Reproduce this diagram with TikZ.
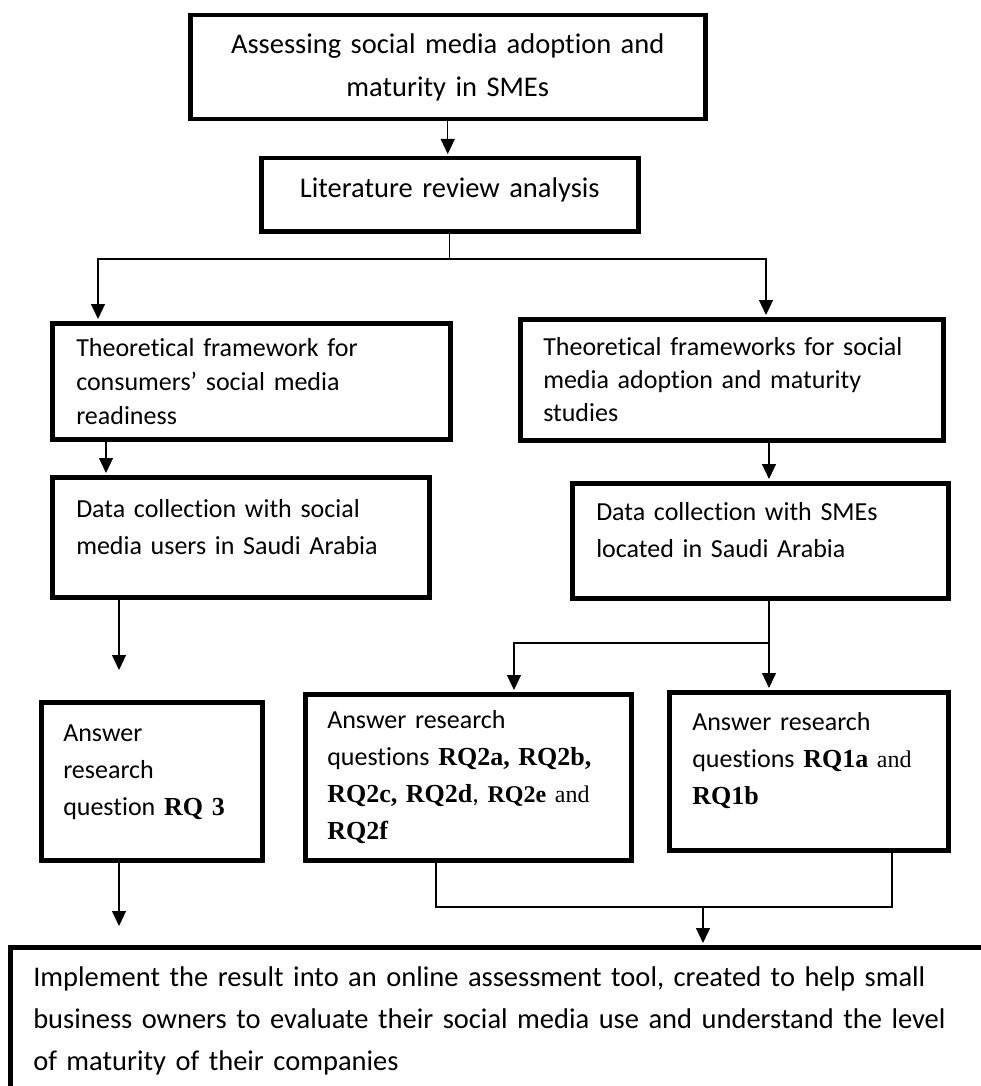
\documentclass[tikz,border=0pt]{standalone}
\usepackage{fontspec}
\setmainfont{Carlito}[Ligatures=NoCommon]
\newfontfamily\tnr{Liberation Serif}
\usetikzlibrary{arrows.meta,calc}

% bold Times-style research question labels
\newcommand{\rqb}[1]{{\tnr\bfseries #1}}
\newcommand{\rqr}[1]{{\tnr #1}}

\tikzset{
  box/.style={draw=black, line width=4.5pt, fill=white, anchor=north west,
    font=\fontsize{26pt}{37pt}\selectfont, align=left, inner ysep=0pt},
  conn/.style={draw=black, line width=1.2pt},
  arr/.style={conn, -{Triangle[width=14pt,length=15pt]}, shorten >=2pt}
}

\begin{document}
\begin{tikzpicture}[x=1pt,y=1pt]
\useasboundingbox (0,0) rectangle (981,-1086);

% --- boxes ---
\node[box, align=center, minimum width=515pt, minimum height=104pt, inner xsep=10pt,
  text width=495pt, font=\fontsize{28.5pt}{43pt}\selectfont] (top) at (188,-13)
  {Assessing social media adoption and\\maturity in SMEs};

\node[box, align=center, minimum width=377pt, minimum height=73pt, inner xsep=10pt,
  text width=357pt, text depth=14pt, font=\fontsize{28.5pt}{37pt}\selectfont] (lit) at (259,-156)
  {Literature review analysis};

\node[box, minimum width=398pt, minimum height=116pt, inner xsep=24pt,
  text width=350pt, font=\fontsize{26pt}{34pt}\selectfont] (theoL) at (50,-321)
  {Theoretical framework for\\consumers' social media\\readiness};

\node[box, minimum width=423pt, minimum height=121pt, inner xsep=23pt,
  text width=377pt, font=\fontsize{26pt}{33pt}\selectfont] (theoR) at (518,-317)
  {Theoretical frameworks for social\\media adoption and maturity\\studies};

\node[box, minimum width=377pt, minimum height=120pt, inner xsep=24pt,
  text width=329pt, text depth=58pt] (dataL) at (50,-475)
  {Data collection with social\\media users in Saudi Arabia};

\node[box, minimum width=376pt, minimum height=115pt, inner xsep=24pt,
  text width=328pt, text depth=58pt] (dataR) at (570,-481)
  {Data collection with SMEs\\located in Saudi Arabia};

\node[box, minimum width=221pt, minimum height=158pt, inner xsep=22pt,
  text width=177pt, text depth=96pt] (rq3) at (39,-700)
  {Answer\\research\\question \rqb{RQ 3}};

\node[box, minimum width=326pt, minimum height=166pt, inner xsep=22pt,
  text width=282pt] (rq2) at (303,-692)
  {Answer research\\questions \rqb{RQ2a, RQ2b,}\\\rqb{RQ2c, RQ2d}, {\fontsize{24pt}{37pt}\selectfont\rqb{RQ2e} \rqr{and}}\\\rqb{RQ2f}};

\node[box, minimum width=279pt, minimum height=158pt, inner xsep=23pt,
  text width=233pt, text depth=100pt] (rq1) at (667,-690)
  {Answer research\\questions \rqb{RQ1a} {\fontsize{24pt}{37pt}\selectfont\rqr{and}}\\\rqb{RQ1b}};

\node[box, minimum width=1000pt, inner xsep=23pt, inner ysep=19pt,
  text width=954pt, font=\fontsize{28.5pt}{42pt}\selectfont] (final) at (8,-945)
  {Implement the result into an online assessment tool, created to help small\\business owners to evaluate their social media use and understand the level\\of maturity of their companies};

% --- connectors ---
\coordinate (split1) at (446,-259);
\coordinate (split2) at (769,-643);
\coordinate (merge) at (703,-907);
\coordinate (endL1) at (119,-672);
\coordinate (endL2) at (119,-928);

\draw[arr] (top.south) -- (top.south |- lit.north);
\draw[conn] (lit.south) -- (lit.south |- split1);
\draw[arr] (lit.south |- split1) -| ([xshift=48pt]theoL.north west);
\draw[arr] (lit.south |- split1) -| ([xshift=248pt]theoR.north west);

\draw[arr] ([xshift=56pt]theoL.south west) -- ([xshift=56pt]dataL.north west);
\draw[arr] ([xshift=251pt]theoR.south west) -- ([xshift=199pt]dataR.north west);

\draw[arr] ([xshift=69pt]dataL.south west) -- (endL1);
\draw[arr] ([xshift=80pt]rq3.south west) -- (endL2);

\draw[conn] ([xshift=199pt]dataR.south west) -- (split2);
\draw[arr] (split2) -- ([xshift=102pt]rq1.north west);
\draw[arr] (split2) -| ([xshift=211pt]rq2.north west);

\draw[conn] ([xshift=133pt]rq2.south west) |- (merge)
  -| ([xshift=225pt]rq1.south west);
\draw[arr] (merge) -- (merge |- final.north);
\end{tikzpicture}
\end{document}
